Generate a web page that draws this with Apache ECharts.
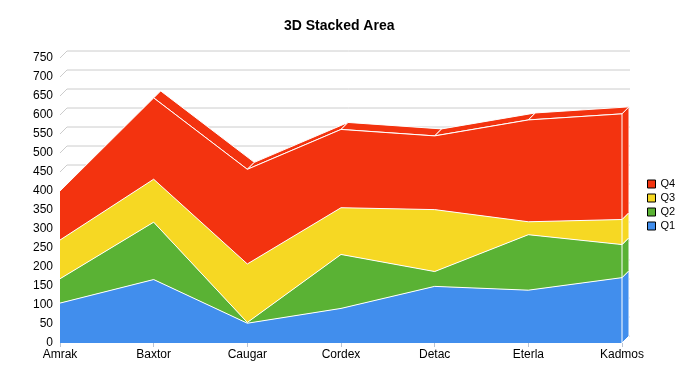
<!DOCTYPE html>
<html>
<head>
<meta charset="utf-8">
<script src="https://cdn.jsdelivr.net/npm/echarts@6/dist/echarts.min.js"></script>
<style>html,body{margin:0;padding:0;background:#fff}#c{width:700px;height:375px}</style>
</head>
<body>
<div id="c"></div>
<script>
var categories = ['Amrak','Baxtor','Caugar','Cordex','Detac','Eterla','Kadmos'];
var q1 = [105,167,52,91,149,139,172];
var q2 = [64,151,2,142,39,146,87];
var q3 = [102,113,154,123,163,34,66];
var q4 = [129,214,249,206,194,268,278];
var yTicks = [0,50,100,150,200,250,300,350,400,450,500,550,600,650,700,750];

var seriesNames = ['Q1','Q2','Q3','Q4'];
var seriesData = [q1,q2,q3,q4];
var colors = ['#418eed','#5ab234','#f6d823','#f3330f'];
var D = 7; // depth offset (px)
var FONT = 'Liberation Sans, Arial, sans-serif';

// cumulative stacks
var cum = [];
var run = categories.map(function(){return 0;});
seriesData.forEach(function(arr){
  run = run.map(function(v,i){return v + arr[i];});
  cum.push(run.slice());
});
var lastIdx = categories.length - 1;

var series = [];
// back gridlines
series.push({
  type:'custom', name:'grid3d', z:1, silent:true, clip:false,
  data: yTicks.map(function(v){return [v];}),
  renderItem: function(params, api){
    var v = api.value(0);
    var a = api.coord([0, v]);
    var b = api.coord([lastIdx, v]);
    return {type:'polyline', shape:{points:[[a[0],a[1]],[a[0]+D,a[1]-D],[b[0]+D+1,b[1]-D]]},
      style:{stroke:'#cccccc', lineWidth:1, fill:null}};
  }
});
// top face of stack
var topData = [];
for (var i=0;i<lastIdx;i++){ topData.push([i, cum[3][i], cum[3][i+1]]); }
series.push({
  type:'custom', name:'top3d', z:2, silent:true, clip:false,
  data: topData,
  renderItem: function(params, api){
    var i = api.value(0);
    var p1 = api.coord([i, api.value(1)]);
    var p2 = api.coord([i+1, api.value(2)]);
    return {type:'polygon', shape:{points:[p1,p2,[p2[0]+D,p2[1]-D],[p1[0]+D,p1[1]-D]]},
      style:{fill:colors[3], stroke:'#ffffff', lineWidth:1}};
  }
});
// front faces
seriesNames.forEach(function(n,k){
  series.push({
    type:'line', name:n, stack:'all', z:3, data:seriesData[k],
    symbol:'none', showSymbol:false, silent:true,
    lineStyle:{color:'#ffffff', width:1},
    itemStyle:{color:colors[k]},
    areaStyle:{color:colors[k], opacity:1},
    emphasis:{disabled:true}
  });
});
// right side faces
var sideData = [];
for (var k=0;k<4;k++){ sideData.push([k, k===0?0:cum[k-1][lastIdx], cum[k][lastIdx]]); }
series.push({
  type:'custom', name:'side3d', z:4, silent:true, clip:false,
  data: sideData,
  renderItem: function(params, api){
    var k = api.value(0);
    var lo = api.coord([lastIdx, api.value(1)]);
    var hi = api.coord([lastIdx, api.value(2)]);
    return {type:'polygon', shape:{points:[lo,hi,[hi[0]+D,hi[1]-D],[lo[0]+D,lo[1]-D]]},
      style:{fill:colors[k], stroke:'#ffffff', lineWidth:1}};
  }
});

var chart = echarts.init(document.getElementById('c'), null, {renderer:'canvas'});
chart.setOption({
  animation:false,
  backgroundColor:'#ffffff',
  title:{text:'3D Stacked Area', left:284, top:19, padding:0,
    textStyle:{fontFamily:FONT, fontSize:14, fontWeight:'bold', color:'#000'}},
  legend:{
    data:['Q4','Q3','Q2','Q1'], orient:'vertical', left:647, top:177, padding:0,
    icon:'rect', itemWidth:8, itemHeight:8, itemGap:0, selectedMode:false,
    itemStyle:{borderColor:'#000', borderWidth:1},
    textStyle:{fontFamily:FONT, fontSize:11, color:'#000', lineHeight:14}
  },
  grid:{left:60, right:78, top:58, bottom:32, containLabel:false},
  xAxis:{
    type:'category', data:categories, boundaryGap:false,
    axisLine:{show:false},
    axisTick:{show:true, length:4, lineStyle:{color:'#b9c3d3'}},
    axisLabel:{fontFamily:FONT, fontSize:12, color:'#000', margin:6, interval:0},
    splitLine:{show:false}
  },
  yAxis:{
    type:'value', min:0, max:750, interval:50,
    axisLine:{show:false}, axisTick:{show:false}, splitLine:{show:false},
    axisLabel:{fontFamily:FONT, fontSize:12, color:'#000', margin:7}
  },
  series:series
});
</script>
</body>
</html>
